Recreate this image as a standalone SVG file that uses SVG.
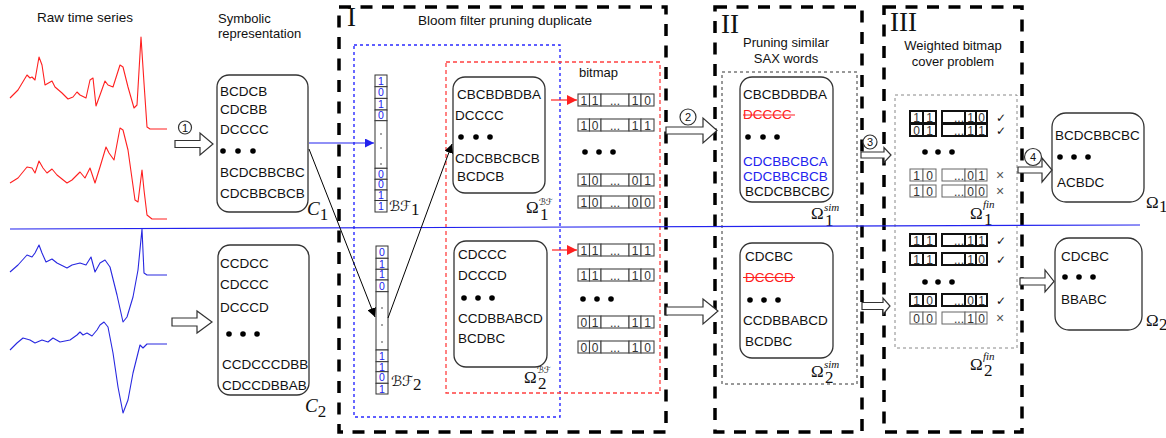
<svg xmlns="http://www.w3.org/2000/svg" width="1166" height="438" viewBox="0 0 1166 438">
<style>
text{font-family:"Liberation Sans",Arial,sans-serif;fill:#111}
.t{font-size:13px}
.w{font-size:13.5px}
.m{font-family:"Liberation Serif","Times New Roman",serif;font-size:17px}
.mi{font-family:"Liberation Serif","Times New Roman",serif;font-style:italic}
.cal{font-family:"DejaVu Sans",sans-serif}
.rn{font-family:"Liberation Serif","Times New Roman",serif;font-size:27px}
.box{fill:#fff;stroke:#333;stroke-width:1.3}
.big{fill:none;stroke:#000;stroke-width:3.5;stroke-dasharray:12 9.5}
.cell{fill:#fff;stroke:#444;stroke-width:1.1}
.cb{fill:#fff;stroke:#111;stroke-width:2}
.cg{fill:#fff;stroke:#666;stroke-width:1}
.d{font-size:12px;fill:#333}
.bv{fill:#fff;stroke:#333;stroke-width:1}
.bd{font-size:10.5px;fill:#2222ee}
.dot{fill:#000}
.ha{fill:#fff;stroke:#333;stroke-width:1.2}
.circ{fill:#fff;stroke:#333;stroke-width:1.2}
.cn{font-size:11px}
.ck{font-family:"DejaVu Sans",sans-serif;font-size:12px}
.x{font-size:14px;fill:#555}
</style>
<defs>
<marker id="ab" viewBox="0 0 10 10" refX="10" refY="5" markerWidth="9" markerHeight="9" markerUnits="userSpaceOnUse" orient="auto"><path d="M0,0 L10,5 L0,10 z" fill="#2222ee"/></marker>
<marker id="ak" viewBox="0 0 10 10" refX="10" refY="5" markerWidth="9" markerHeight="9" markerUnits="userSpaceOnUse" orient="auto"><path d="M0,0 L10,5 L0,10 z" fill="#000"/></marker>
<marker id="ar" viewBox="0 0 10 10" refX="10" refY="5" markerWidth="10" markerHeight="10" markerUnits="userSpaceOnUse" orient="auto"><path d="M0,0 L10,5 L0,10 z" fill="#ff2020"/></marker>
</defs>

<!-- Titles -->
<g id="titles">
<text class="w" x="37" y="22">Raw time series</text>
<text class="t" x="218" y="23">Symbolic</text>
<text class="t" x="218" y="38">representation</text>
<text class="w" x="505" y="25" text-anchor="middle">Bloom filter pruning duplicate</text>
<text class="t" x="786" y="47" text-anchor="middle">Pruning similar</text>
<text class="t" x="786" y="63" text-anchor="middle">SAX words</text>
<text class="t" x="953" y="50" text-anchor="middle">Weighted bitmap</text>
<text class="t" x="953" y="66" text-anchor="middle">cover problem</text>
</g>

<!-- Time series -->
<g id="series" fill="none" stroke-width="1.1" stroke-linejoin="round">
<polyline stroke="#ff2020" points="10,98 18,90 27,75 30,78 32,77 35,80 39,57 42,65 45,85 52,81 55,87 62,93 68,99 73,97 77,92 80,95 86,98 90,80 93,78 96,106 100,95 105,81 108,85 113,87 120,65 123,67 128,87 134,108 137,105 141,37 144,83 147,127 150,129 167,129"/>
<polyline stroke="#ff2020" points="10,183 18,178 27,167 32,168 35,173 39,161 43,168 47,173 52,169 57,175 67,183 72,180 80,172 85,178 90,168 95,183 100,167 106,147 109,153 114,160 120,128 123,130 128,150 135,200 138,202 142,170 144,190 147,215 152,219 167,219"/>
<polyline stroke="#2828e0" points="10,272 18,265 27,255 32,257 35,253 39,245 42,253 46,262 52,259 57,263 67,268 72,265 80,263 86,265 91,257 95,272 100,263 105,260 110,267 117,295 123,322 127,317 133,297 138,270 142,229 144,273 147,275 167,275"/>
<polyline stroke="#2828e0" points="10,350 17,343 23,338 30,340 35,343 42,340 48,342 53,338 60,342 70,340 77,335 80,332 83,335 87,333 92,336 97,330 100,325 104,322 108,327 113,353 118,387 123,413 128,400 133,373 140,345 143,348 147,344 167,344"/>
</g>

<!-- Stage frames -->
<g id="stage-I">
<rect class="big" x="339" y="7" width="327" height="425"/>
<text class="rn" x="347" y="26">I</text>
<rect x="354" y="45" width="206" height="372" fill="none" stroke="#2a2aff" stroke-width="1.4" stroke-dasharray="3 3"/>
<rect x="446" y="62" width="214" height="331" fill="none" stroke="#ff4040" stroke-width="1.3" stroke-dasharray="4 3"/>
</g>
<g id="stage-II">
<rect class="big" x="715" y="7" width="147" height="425"/>
<text class="rn" x="721" y="33">II</text>
<rect x="722" y="72" width="135" height="312" fill="none" stroke="#333" stroke-width="1" stroke-dasharray="3 3"/>
</g>
<g id="stage-III">
<rect class="big" x="884" y="7" width="138" height="425"/>
<text class="rn" x="890" y="31">III</text>
<rect x="895" y="95" width="122" height="253" fill="none" stroke="#888" stroke-width="1" stroke-dasharray="3 3"/>
</g>

<!-- C1 -->
<g id="C1">
<rect class="box" x="217" y="75" width="91" height="137" rx="12"/>
<text class="w" x="220" y="96">BCDCB</text>
<text class="w" x="220" y="114">CDCBB</text>
<text class="w" x="220" y="134">DCCCC</text>
<circle class="dot" cx="223" cy="151" r="2.8"/><circle class="dot" cx="238" cy="151" r="2.8"/><circle class="dot" cx="253" cy="151" r="2.8"/>
<text class="w" x="220" y="177">BCDCBBCBC</text>
<text class="w" x="220" y="198">CDCBBCBCB</text>
<text x="307" y="215"><tspan class="mi" font-size="19">C</tspan><tspan class="m" font-size="12" dy="5">1</tspan></text>
</g>

<!-- C2 -->
<g id="C2">
<rect class="box" x="218" y="245" width="91" height="150" rx="12"/>
<text class="w" x="220" y="268">CCDCC</text>
<text class="w" x="220" y="289">CDCCC</text>
<text class="w" x="220" y="312">DCCCD</text>
<circle class="dot" cx="229" cy="334" r="2.8"/><circle class="dot" cx="243" cy="334" r="2.8"/><circle class="dot" cx="257" cy="334" r="2.8"/>
<text class="w" x="222" y="369">CCDCCCDBB</text>
<text class="w" x="222" y="390">CDCCDBBAB</text>
<text x="305" y="412"><tspan class="mi" font-size="19">C</tspan><tspan class="m" font-size="12" dy="5">2</tspan></text>
</g>

<!-- BF1 -->
<g id="BF1">
<rect class="bv" x="375" y="75" width="12" height="11.7"/><text class="bd" x="381" y="84.8" text-anchor="middle">1</text>
<rect class="bv" x="375" y="86.7" width="12" height="11.7"/><text class="bd" x="381" y="96.4" text-anchor="middle">0</text>
<rect class="bv" x="375" y="98.4" width="12" height="11.6"/><text class="bd" x="381" y="108" text-anchor="middle">1</text>
<rect class="bv" x="375" y="110" width="12" height="10.7"/><text class="bd" x="381" y="119" text-anchor="middle">0</text>
<rect class="bv" x="375" y="120.7" width="12" height="47.6"/>
<circle cx="381" cy="134" r="0.8" fill="#333"/><circle cx="381" cy="148" r="0.8" fill="#333"/><circle cx="381" cy="164" r="0.8" fill="#333"/>
<rect class="bv" x="375" y="168.3" width="12" height="11"/><text class="bd" x="381" y="177.6" text-anchor="middle">0</text>
<rect class="bv" x="375" y="179.3" width="12" height="10.7"/><text class="bd" x="381" y="188.4" text-anchor="middle">0</text>
<rect class="bv" x="375" y="190" width="12" height="10.5"/><text class="bd" x="381" y="199" text-anchor="middle">1</text>
<rect class="bv" x="375" y="200.5" width="12" height="11.5"/><text class="bd" x="381" y="210" text-anchor="middle">1</text>
<text x="389" y="211"><tspan class="cal" font-size="14">ℬℱ</tspan><tspan class="m" font-size="10" dy="4">1</tspan></text>
</g>

<!-- BF2 -->
<g id="BF2">
<rect class="bv" x="376" y="246" width="12" height="12.3"/><text class="bd" x="382" y="256" text-anchor="middle">0</text>
<rect class="bv" x="376" y="258.3" width="12" height="11"/><text class="bd" x="382" y="267.6" text-anchor="middle">1</text>
<rect class="bv" x="376" y="269.3" width="12" height="10.7"/><text class="bd" x="382" y="278.4" text-anchor="middle">1</text>
<rect class="bv" x="376" y="280" width="12" height="11.7"/><text class="bd" x="382" y="289.8" text-anchor="middle">0</text>
<rect class="bv" x="376" y="291.7" width="12" height="58.3"/>
<circle cx="382" cy="308" r="0.8" fill="#333"/><circle cx="382" cy="325" r="0.8" fill="#333"/><circle cx="382" cy="342" r="0.8" fill="#333"/>
<rect class="bv" x="376" y="350" width="12" height="11.7"/><text class="bd" x="382" y="359.8" text-anchor="middle">1</text>
<rect class="bv" x="376" y="361.7" width="12" height="10"/><text class="bd" x="382" y="370.5" text-anchor="middle">1</text>
<rect class="bv" x="376" y="371.7" width="12" height="11.6"/><text class="bd" x="382" y="381.3" text-anchor="middle">0</text>
<rect class="bv" x="376" y="383.3" width="12" height="10.7"/><text class="bd" x="382" y="392.5" text-anchor="middle">1</text>
<text x="391" y="386"><tspan class="cal" font-size="14">ℬℱ</tspan><tspan class="m" font-size="10" dy="4">2</tspan></text>
</g>

<!-- Omega1 BF -->
<g id="Omega1-BF">
<rect class="box" x="453" y="77" width="92" height="116" rx="12"/>
<text class="w" x="457" y="99">CBCBDBDBA</text>
<text class="w" x="455" y="120">DCCCC</text>
<circle class="dot" cx="461" cy="137" r="2.8"/><circle class="dot" cx="476" cy="137" r="2.8"/><circle class="dot" cx="490" cy="137" r="2.8"/>
<text class="w" x="455" y="163">CDCBBCBCB</text>
<text class="w" x="457" y="181">BCDCB</text>
<text class="m" x="526" y="213">Ω</text><text class="cal" x="539" y="205" font-size="9">ℬℱ</text><text class="m" x="540" y="220" font-size="10">1</text>
</g>

<!-- Omega2 BF -->
<g id="Omega2-BF">
<rect class="box" x="454" y="241" width="93" height="126" rx="12"/>
<text class="w" x="458" y="259">CDCCC</text>
<text class="w" x="458" y="280">DCCCD</text>
<circle class="dot" cx="464" cy="298" r="2.8"/><circle class="dot" cx="478" cy="298" r="2.8"/><circle class="dot" cx="492" cy="298" r="2.8"/>
<text class="w" x="458" y="323">CCDBBABCD</text>
<text class="w" x="458" y="343">BCDBC</text>
<text class="m" x="524" y="383">Ω</text><text class="cal" x="537" y="373" font-size="9">ℬℱ</text><text class="m" x="538" y="389" font-size="10">2</text>
</g>

<!-- Bitmaps stage I -->
<g id="bitmap-1">
<text class="t" x="579" y="77">bitmap</text>
<g transform="translate(0,100)">
<rect class="cell" x="578" y="-6" width="11.5" height="12"/><rect class="cell" x="589.5" y="-6" width="11.5" height="12"/><rect class="cell" x="601" y="-6" width="28" height="12"/><rect class="cell" x="629" y="-6" width="12" height="12"/><rect class="cell" x="641" y="-6" width="13" height="12"/>
<text class="d" x="583.8" y="4.5" text-anchor="middle">1</text><text class="d" x="595.2" y="4.5" text-anchor="middle">1</text><text class="d" x="615" y="4.5" text-anchor="middle">...</text><text class="d" x="635" y="4.5" text-anchor="middle">1</text><text class="d" x="647.5" y="4.5" text-anchor="middle">0</text>
</g>
<g transform="translate(0,125)">
<rect class="cell" x="578" y="-6" width="11.5" height="12"/><rect class="cell" x="589.5" y="-6" width="11.5" height="12"/><rect class="cell" x="601" y="-6" width="28" height="12"/><rect class="cell" x="629" y="-6" width="12" height="12"/><rect class="cell" x="641" y="-6" width="13" height="12"/>
<text class="d" x="583.8" y="4.5" text-anchor="middle">1</text><text class="d" x="595.2" y="4.5" text-anchor="middle">0</text><text class="d" x="615" y="4.5" text-anchor="middle">...</text><text class="d" x="635" y="4.5" text-anchor="middle">1</text><text class="d" x="647.5" y="4.5" text-anchor="middle">1</text>
</g>
<circle class="dot" cx="585" cy="152" r="2.8"/><circle class="dot" cx="599" cy="152" r="2.8"/><circle class="dot" cx="613" cy="152" r="2.8"/>
<g transform="translate(0,180)">
<rect class="cell" x="578" y="-6" width="11.5" height="12"/><rect class="cell" x="589.5" y="-6" width="11.5" height="12"/><rect class="cell" x="601" y="-6" width="28" height="12"/><rect class="cell" x="629" y="-6" width="12" height="12"/><rect class="cell" x="641" y="-6" width="13" height="12"/>
<text class="d" x="583.8" y="4.5" text-anchor="middle">1</text><text class="d" x="595.2" y="4.5" text-anchor="middle">0</text><text class="d" x="615" y="4.5" text-anchor="middle">...</text><text class="d" x="635" y="4.5" text-anchor="middle">0</text><text class="d" x="647.5" y="4.5" text-anchor="middle">1</text>
</g>
<g transform="translate(0,202)">
<rect class="cell" x="578" y="-6" width="11.5" height="12"/><rect class="cell" x="589.5" y="-6" width="11.5" height="12"/><rect class="cell" x="601" y="-6" width="28" height="12"/><rect class="cell" x="629" y="-6" width="12" height="12"/><rect class="cell" x="641" y="-6" width="13" height="12"/>
<text class="d" x="583.8" y="4.5" text-anchor="middle">1</text><text class="d" x="595.2" y="4.5" text-anchor="middle">0</text><text class="d" x="615" y="4.5" text-anchor="middle">...</text><text class="d" x="635" y="4.5" text-anchor="middle">0</text><text class="d" x="647.5" y="4.5" text-anchor="middle">0</text>
</g>
</g>

<g id="bitmap-2">
<g transform="translate(0,250)">
<rect class="cell" x="578" y="-6" width="11.5" height="12"/><rect class="cell" x="589.5" y="-6" width="11.5" height="12"/><rect class="cell" x="601" y="-6" width="28" height="12"/><rect class="cell" x="629" y="-6" width="12" height="12"/><rect class="cell" x="641" y="-6" width="13" height="12"/>
<text class="d" x="583.8" y="4.5" text-anchor="middle">1</text><text class="d" x="595.2" y="4.5" text-anchor="middle">1</text><text class="d" x="615" y="4.5" text-anchor="middle">...</text><text class="d" x="635" y="4.5" text-anchor="middle">1</text><text class="d" x="647.5" y="4.5" text-anchor="middle">1</text>
</g>
<g transform="translate(0,275)">
<rect class="cell" x="578" y="-6" width="11.5" height="12"/><rect class="cell" x="589.5" y="-6" width="11.5" height="12"/><rect class="cell" x="601" y="-6" width="28" height="12"/><rect class="cell" x="629" y="-6" width="12" height="12"/><rect class="cell" x="641" y="-6" width="13" height="12"/>
<text class="d" x="583.8" y="4.5" text-anchor="middle">1</text><text class="d" x="595.2" y="4.5" text-anchor="middle">1</text><text class="d" x="615" y="4.5" text-anchor="middle">...</text><text class="d" x="635" y="4.5" text-anchor="middle">1</text><text class="d" x="647.5" y="4.5" text-anchor="middle">0</text>
</g>
<circle class="dot" cx="583" cy="299" r="2.8"/><circle class="dot" cx="597" cy="299" r="2.8"/><circle class="dot" cx="611" cy="299" r="2.8"/>
<g transform="translate(0,322)">
<rect class="cell" x="578" y="-6" width="11.5" height="12"/><rect class="cell" x="589.5" y="-6" width="11.5" height="12"/><rect class="cell" x="601" y="-6" width="28" height="12"/><rect class="cell" x="629" y="-6" width="12" height="12"/><rect class="cell" x="641" y="-6" width="13" height="12"/>
<text class="d" x="583.8" y="4.5" text-anchor="middle">0</text><text class="d" x="595.2" y="4.5" text-anchor="middle">1</text><text class="d" x="615" y="4.5" text-anchor="middle">...</text><text class="d" x="635" y="4.5" text-anchor="middle">1</text><text class="d" x="647.5" y="4.5" text-anchor="middle">1</text>
</g>
<g transform="translate(0,347)">
<rect class="cell" x="578" y="-6" width="11.5" height="12"/><rect class="cell" x="589.5" y="-6" width="11.5" height="12"/><rect class="cell" x="601" y="-6" width="28" height="12"/><rect class="cell" x="629" y="-6" width="12" height="12"/><rect class="cell" x="641" y="-6" width="13" height="12"/>
<text class="d" x="583.8" y="4.5" text-anchor="middle">0</text><text class="d" x="595.2" y="4.5" text-anchor="middle">0</text><text class="d" x="615" y="4.5" text-anchor="middle">...</text><text class="d" x="635" y="4.5" text-anchor="middle">1</text><text class="d" x="647.5" y="4.5" text-anchor="middle">0</text>
</g>
</g>

<!-- Omega1 sim -->
<g id="Omega1-sim">
<rect class="box" x="740" y="77" width="93" height="125" rx="12"/>
<text class="w" x="743" y="99">CBCBDBDBA</text>
<text class="w" x="743" y="119" style="fill:#ff2020">DCCCC</text>
<line x1="743" y1="115" x2="795" y2="115" stroke="#ff2020" stroke-width="1.2"/>
<circle class="dot" cx="748" cy="137" r="2.8"/><circle class="dot" cx="763" cy="137" r="2.8"/><circle class="dot" cx="777" cy="137" r="2.8"/>
<text class="w" x="743" y="166" style="fill:#2222ee">CDCBBCBCA</text>
<text class="w" x="743" y="181" style="fill:#2222ee">CDCBBCBCB</text>
<text class="w" x="745" y="196">BCDCBBCBC</text>
<text class="m" x="811" y="219">Ω</text><text class="mi" x="824" y="211" font-size="11">sim</text><text class="m" x="825" y="226" font-size="10">1</text>
</g>

<!-- Omega2 sim -->
<g id="Omega2-sim">
<rect class="box" x="740" y="243" width="93" height="115" rx="12"/>
<text class="w" x="745" y="261">CDCBC</text>
<text class="w" x="745" y="282" style="fill:#ff2020">DCCCD</text>
<line x1="743" y1="277.5" x2="795" y2="277.5" stroke="#ff2020" stroke-width="1.2"/>
<circle class="dot" cx="750" cy="300" r="2.8"/><circle class="dot" cx="764" cy="300" r="2.8"/><circle class="dot" cx="778" cy="300" r="2.8"/>
<text class="w" x="743" y="325">CCDBBABCD</text>
<text class="w" x="745" y="346">BCDBC</text>
<text class="m" x="811" y="377">Ω</text><text class="mi" x="824" y="368" font-size="11">sim</text><text class="m" x="825" y="383" font-size="10">2</text>
</g>

<!-- Stage III bitmaps -->
<g id="Omega1-fin">
<g transform="translate(0,117)">
<rect class="cb" x="910" y="-6" width="13" height="12"/><rect class="cb" x="923" y="-6" width="13" height="12"/><rect class="cb" x="942" y="-6" width="23" height="12"/><rect class="cb" x="965" y="-6" width="11" height="12"/><rect class="cb" x="976" y="-6" width="11" height="12"/>
<text class="d" x="916.5" y="4.5" text-anchor="middle">1</text><text class="d" x="929.5" y="4.5" text-anchor="middle">1</text><text class="d" x="959" y="4.5" text-anchor="middle">...</text><text class="d" x="970.5" y="4.5" text-anchor="middle">1</text><text class="d" x="981.5" y="4.5" text-anchor="middle">0</text>
<text class="ck" x="996" y="4.5">✓</text>
</g>
<g transform="translate(0,130)">
<rect class="cb" x="910" y="-6" width="13" height="12"/><rect class="cb" x="923" y="-6" width="13" height="12"/><rect class="cb" x="942" y="-6" width="23" height="12"/><rect class="cb" x="965" y="-6" width="11" height="12"/><rect class="cb" x="976" y="-6" width="11" height="12"/>
<text class="d" x="916.5" y="4.5" text-anchor="middle">0</text><text class="d" x="929.5" y="4.5" text-anchor="middle">1</text><text class="d" x="959" y="4.5" text-anchor="middle">...</text><text class="d" x="970.5" y="4.5" text-anchor="middle">1</text><text class="d" x="981.5" y="4.5" text-anchor="middle">1</text>
<text class="ck" x="996" y="4.5">✓</text>
</g>
<circle class="dot" cx="925" cy="152" r="2.8"/><circle class="dot" cx="938" cy="152" r="2.8"/><circle class="dot" cx="952" cy="152" r="2.8"/>
<g transform="translate(0,175)">
<rect class="cg" x="910" y="-6" width="13" height="12"/><rect class="cg" x="923" y="-6" width="13" height="12"/><rect class="cg" x="942" y="-6" width="23" height="12"/><rect class="cg" x="965" y="-6" width="11" height="12"/><rect class="cg" x="976" y="-6" width="11" height="12"/>
<text class="d" x="916.5" y="4.5" text-anchor="middle">1</text><text class="d" x="929.5" y="4.5" text-anchor="middle">0</text><text class="d" x="959" y="4.5" text-anchor="middle">...</text><text class="d" x="970.5" y="4.5" text-anchor="middle">0</text><text class="d" x="981.5" y="4.5" text-anchor="middle">1</text>
<text class="x" x="996" y="4.5">×</text>
</g>
<g transform="translate(0,191)">
<rect class="cg" x="910" y="-6" width="13" height="12"/><rect class="cg" x="923" y="-6" width="13" height="12"/><rect class="cg" x="942" y="-6" width="23" height="12"/><rect class="cg" x="965" y="-6" width="11" height="12"/><rect class="cg" x="976" y="-6" width="11" height="12"/>
<text class="d" x="916.5" y="4.5" text-anchor="middle">1</text><text class="d" x="929.5" y="4.5" text-anchor="middle">0</text><text class="d" x="959" y="4.5" text-anchor="middle">...</text><text class="d" x="970.5" y="4.5" text-anchor="middle">0</text><text class="d" x="981.5" y="4.5" text-anchor="middle">0</text>
<text class="x" x="996" y="4.5">×</text>
</g>
<text class="m" x="970" y="219">Ω</text><text class="mi" x="983" y="208" font-size="11">fin</text><text class="m" x="984" y="225" font-size="10">1</text>
</g>

<g id="Omega2-fin">
<g transform="translate(0,240)">
<rect class="cb" x="910" y="-6" width="13" height="12"/><rect class="cb" x="923" y="-6" width="13" height="12"/><rect class="cb" x="942" y="-6" width="23" height="12"/><rect class="cb" x="965" y="-6" width="11" height="12"/><rect class="cb" x="976" y="-6" width="11" height="12"/>
<text class="d" x="916.5" y="4.5" text-anchor="middle">1</text><text class="d" x="929.5" y="4.5" text-anchor="middle">1</text><text class="d" x="959" y="4.5" text-anchor="middle">...</text><text class="d" x="970.5" y="4.5" text-anchor="middle">1</text><text class="d" x="981.5" y="4.5" text-anchor="middle">1</text>
<text class="ck" x="996" y="4.5">✓</text>
</g>
<g transform="translate(0,259)">
<rect class="cb" x="910" y="-6" width="13" height="12"/><rect class="cb" x="923" y="-6" width="13" height="12"/><rect class="cb" x="942" y="-6" width="23" height="12"/><rect class="cb" x="965" y="-6" width="11" height="12"/><rect class="cb" x="976" y="-6" width="11" height="12"/>
<text class="d" x="916.5" y="4.5" text-anchor="middle">1</text><text class="d" x="929.5" y="4.5" text-anchor="middle">1</text><text class="d" x="959" y="4.5" text-anchor="middle">...</text><text class="d" x="970.5" y="4.5" text-anchor="middle">1</text><text class="d" x="981.5" y="4.5" text-anchor="middle">0</text>
<text class="ck" x="996" y="4.5">✓</text>
</g>
<circle class="dot" cx="925" cy="282" r="2.8"/><circle class="dot" cx="938" cy="282" r="2.8"/><circle class="dot" cx="952" cy="282" r="2.8"/>
<g transform="translate(0,300)">
<rect class="cb" x="910" y="-6" width="13" height="12"/><rect class="cb" x="923" y="-6" width="13" height="12"/><rect class="cb" x="942" y="-6" width="23" height="12"/><rect class="cb" x="965" y="-6" width="11" height="12"/><rect class="cb" x="976" y="-6" width="11" height="12"/>
<text class="d" x="916.5" y="4.5" text-anchor="middle">1</text><text class="d" x="929.5" y="4.5" text-anchor="middle">0</text><text class="d" x="959" y="4.5" text-anchor="middle">...</text><text class="d" x="970.5" y="4.5" text-anchor="middle">0</text><text class="d" x="981.5" y="4.5" text-anchor="middle">1</text>
<text class="ck" x="996" y="4.5">✓</text>
</g>
<g transform="translate(0,318)">
<rect class="cg" x="910" y="-6" width="13" height="12"/><rect class="cg" x="923" y="-6" width="13" height="12"/><rect class="cg" x="942" y="-6" width="23" height="12"/><rect class="cg" x="965" y="-6" width="11" height="12"/><rect class="cg" x="976" y="-6" width="11" height="12"/>
<text class="d" x="916.5" y="4.5" text-anchor="middle">0</text><text class="d" x="929.5" y="4.5" text-anchor="middle">0</text><text class="d" x="959" y="4.5" text-anchor="middle">...</text><text class="d" x="970.5" y="4.5" text-anchor="middle">1</text><text class="d" x="981.5" y="4.5" text-anchor="middle">0</text>
<text class="x" x="996" y="4.5">×</text>
</g>
<text class="m" x="970" y="370">Ω</text><text class="mi" x="983" y="360" font-size="11">fin</text><text class="m" x="984" y="376" font-size="10">2</text>
</g>

<!-- Omega1 final -->
<g id="Omega1">
<rect class="box" x="1052" y="113" width="92" height="89" rx="14"/>
<text class="w" x="1055" y="140">BCDCBBCBC</text>
<circle class="dot" cx="1060" cy="157" r="2.8"/><circle class="dot" cx="1074" cy="157" r="2.8"/><circle class="dot" cx="1088" cy="157" r="2.8"/>
<text class="w" x="1057" y="187">ACBDC</text>
<text class="m" x="1146" y="208">Ω</text><text class="m" x="1159" y="212" font-size="10">1</text>
</g>
<g id="Omega2">
<rect class="box" x="1055" y="238" width="87" height="92" rx="14"/>
<text class="w" x="1061" y="261">CDCBC</text>
<circle class="dot" cx="1065" cy="277" r="2.8"/><circle class="dot" cx="1079" cy="277" r="2.8"/><circle class="dot" cx="1093" cy="277" r="2.8"/>
<text class="w" x="1061" y="304">BBABC</text>
<text class="m" x="1146" y="326">Ω</text><text class="m" x="1159" y="330" font-size="10">2</text>
</g>

<!-- Connectors -->
<g id="connectors">
<line x1="10" y1="229" x2="1140" y2="225" stroke="#2222ee" stroke-width="1.2"/>
<line x1="309" y1="143" x2="374" y2="143" stroke="#2222ee" stroke-width="1.2" marker-end="url(#ab)"/>
<line x1="309" y1="149" x2="375" y2="317" stroke="#000" stroke-width="1" marker-end="url(#ak)"/>
<line x1="388" y1="318" x2="452" y2="144" stroke="#000" stroke-width="1" marker-end="url(#ak)"/>
<line x1="551" y1="100" x2="577" y2="100" stroke="#ff2020" stroke-width="1.2" marker-end="url(#ar)"/>
<line x1="552" y1="250" x2="577" y2="250" stroke="#ff2020" stroke-width="1.2" marker-end="url(#ar)"/>
<path class="ha" d="M175,140.5 H200 V133 L213,144 L200,155 V147.5 H175 Z"/>
<path class="ha" d="M172,318 H197 V311 L212,322 L197,333 V326 H172 Z"/>
<path class="ha" d="M666,127 H703 V118 L717,130.5 L703,143 V134 H666 Z"/>
<path class="ha" d="M666,307 H703 V299 L718,311 L703,324 V315 H666 Z"/>
<path class="ha" d="M861,152 H884 V147.5 L891,155 L884,162.5 V158 H861 Z"/>
<path class="ha" d="M862,302.5 H883 V298 L890,306 L883,314.5 V309.5 H862 Z"/>
<path class="ha" d="M1018,167 H1042 V158 L1052,170 L1042,182 V173 H1018 Z"/>
<path class="ha" d="M1020,278 H1045 V270 L1054,281.5 L1045,292 V285 H1020 Z"/>
<circle class="circ" cx="185" cy="127.5" r="6.5"/><text class="cn" x="185" y="131.5" text-anchor="middle">1</text>
<circle class="circ" cx="688" cy="117" r="8"/><text class="cn" x="688" y="121" text-anchor="middle">2</text>
<circle class="circ" cx="870" cy="142" r="7"/><text class="cn" x="870" y="146" text-anchor="middle">3</text>
<circle class="circ" cx="1033" cy="157" r="8.5"/><text class="cn" x="1033" y="161" text-anchor="middle">4</text>
</g>
</svg>
